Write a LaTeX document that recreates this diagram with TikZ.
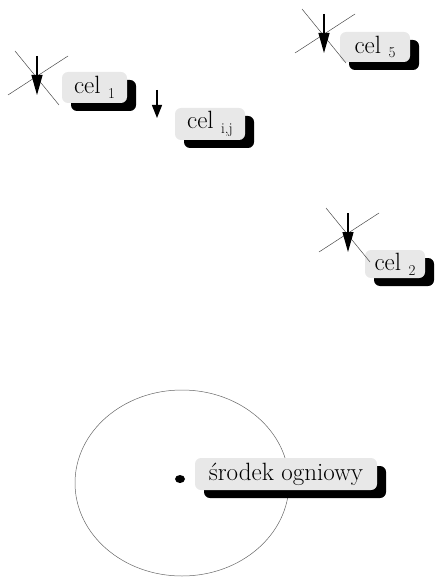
\documentclass[tikz,border=0pt]{standalone}
\usetikzlibrary{arrows.meta, shadows}

% lowered index after "cel"
\newcommand\idx[1]{\raisebox{-0.45ex}{\fontsize{15}{15}\selectfont #1}}

\begin{document}
\begin{tikzpicture}[x=1pt, y=-1pt,
  tag/.style={fill=black!9, rounded corners=6pt, inner sep=0pt,
              font=\fontsize{25}{28}\selectfont,
              drop shadow={shadow xshift=9pt, shadow yshift=-8pt,
                           fill=black, opacity=1}},
  cross/.style={black!70, line width=0.5pt},
  fall/.style={-{Triangle[length=20pt, width=11pt]}, line width=1.2pt},
  ring/.style={black!60, line width=0.5pt}
]
  \useasboundingbox (0,0) rectangle (438,577);

  % fire range
  \draw[ring] (182,483) ellipse [x radius=107, y radius=93];
  \coordinate (fire) at (180,479);
  \fill (fire) ellipse [x radius=5, y radius=4];

  % targets
  \node[tag, minimum width=65pt, minimum height=31pt] (c1)  at (94.5,87.5) {cel \idx{1}};
  \node[tag, minimum width=70pt, minimum height=32pt] (cij) at (210,124) {cel \idx{i,j}};
  \node[tag, minimum width=70pt, minimum height=30pt] (c5)  at (375,47) {cel \idx{5}};
  \node[tag, minimum width=60pt, minimum height=28pt] (c2)  at (395,264) {cel \idx{2}};
  \node[tag, minimum width=182pt, minimum height=32pt] (src) at (286,474) {\'srodek ogniowy};

  % hit markers
  \coordinate (m1) at (37,77);
  \coordinate (m5) at (324,35);
  \coordinate (m2) at (348,234);
  \foreach \m in {m1,m5,m2} {
    \draw[cross] (\m) +(-22,-26) -- +(22,28);
    \draw[cross] (\m) +(31,-21) -- +(-29,18);
    \draw[fall] (\m) +(0,-21) -- +(0,18);
  }

  % falling shell
  \coordinate (dij) at (157,90);
  \draw[fall, -{Triangle[length=13pt, width=10pt]}] (dij) -- ++(0,28);
\end{tikzpicture}
\end{document}
